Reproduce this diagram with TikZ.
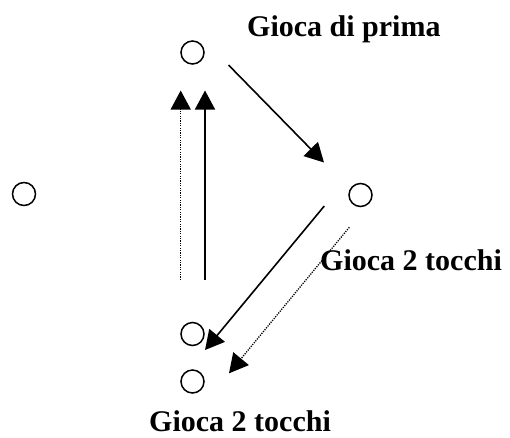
\documentclass[tikz,border=0pt]{standalone}
\usepackage{fontspec}
\setmainfont{Liberation Serif}
\usetikzlibrary{arrows.meta}
\begin{document}
\begin{tikzpicture}[x=1pt,y=-1pt,
  player/.style={draw,circle,line width=1.5pt,minimum size=23pt,inner sep=0pt},
  lbl/.style={anchor=base west,inner sep=0pt,font=\fontsize{30}{36}\selectfont\bfseries},
  pass/.style={line width=1.6pt,-{Triangle[length=19pt,width=20pt]}},
  run/.style={line width=1.3pt,dash pattern=on 1.2pt off 1.2pt,-{Triangle[length=19pt,width=20pt]}}]
\useasboundingbox (0,0) rectangle (510,437);
\node[player] (pt) at (192.5,52.5) {};
\node[player] (pl) at (24,194) {};
\node[player] (pr) at (360.5,195) {};
\node[player] (pb1) at (192.5,334) {};
\node[player] (pb2) at (192.5,381.5) {};
\node[lbl] (t1) at (247,36) {Gioca di prima};
\node[lbl] (t2) at (320,270.5) {Gioca 2 tocchi};
\node[lbl] (t3) at (149,431) {Gioca 2 tocchi};
\coordinate (a1s) at (228.5,65);
\coordinate (a1e) at (324,162.5);
\coordinate (v1s) at (205,280);
\coordinate (v1e) at (205,90.5);
\coordinate (v2s) at (180.7,280);
\coordinate (v2e) at (180.7,90.5);
\coordinate (d1s) at (324.3,206);
\coordinate (d1e) at (205,350);
\coordinate (d2s) at (349.3,227.3);
\coordinate (d2e) at (229,373.3);
\draw[pass] (a1s) -- (a1e);
\draw[pass] (v1s) -- (v1e);
\draw[run] (v2s) -- (v2e);
\draw[pass] (d1s) -- (d1e);
\draw[run] (d2s) -- (d2e);
\end{tikzpicture}
\end{document}
